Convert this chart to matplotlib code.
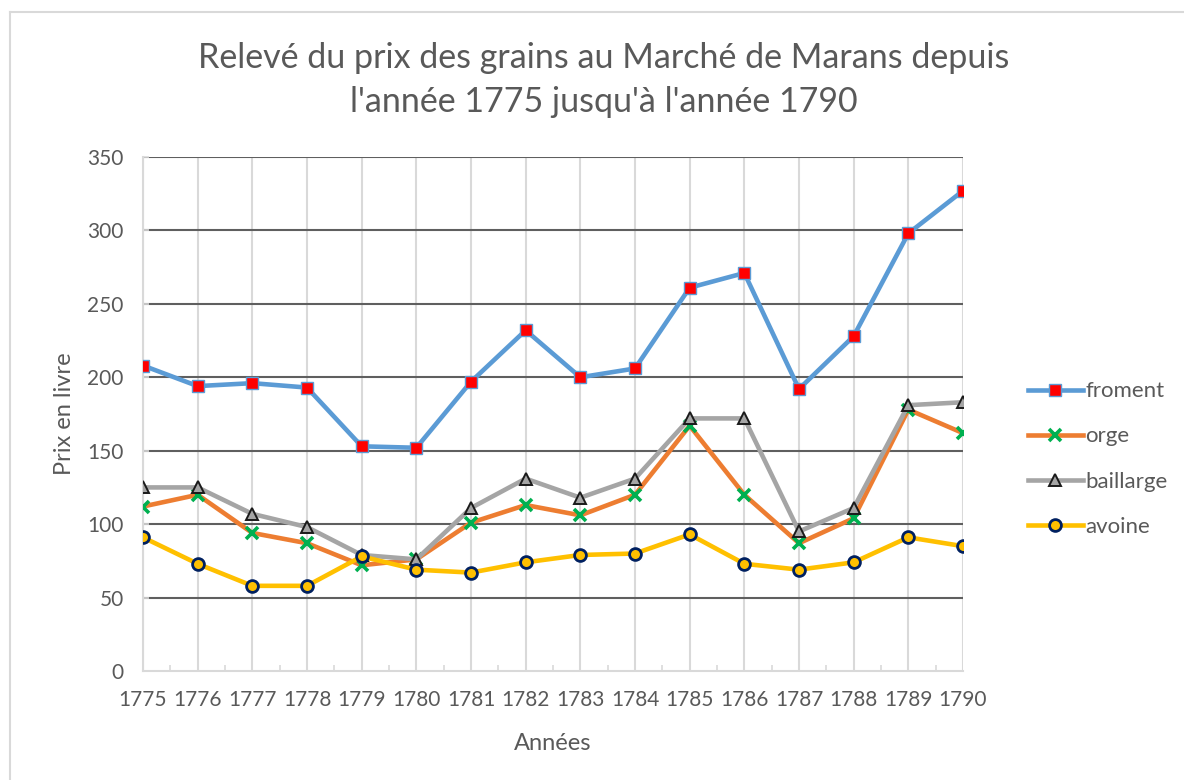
import matplotlib
matplotlib.use("Agg")
import matplotlib.pyplot as plt
from matplotlib.lines import Line2D

plt.rcParams['font.family'] = ['Lato', 'DejaVu Sans']

years = ['1775', '1776', '1777', '1778', '1779', '1780', '1781', '1782',
         '1783', '1784', '1785', '1786', '1787', '1788', '1789', '1790']
froment = [208, 194, 196, 193, 153, 152, 197, 232, 200, 206, 261, 271, 192, 228, 298, 327]
orge = [112, 120, 94, 87, 72, 76, 101, 113, 106, 120, 167, 120, 87, 104, 178, 162]
baillarge = [125, 125, 107, 98, 79, 76, 111, 131, 118, 131, 172, 172, 95, 111, 181, 183]
avoine = [91, 73, 58, 58, 78, 69, 67, 74, 79, 80, 93, 73, 69, 74, 91, 85]
yticks = [0, 50, 100, 150, 200, 250, 300, 350]

W, H = 1184, 780
fig = plt.figure(figsize=(W / 100, H / 100), dpi=100)
ax = fig.add_axes([143 / W, 1 - 671 / H, (963 - 143) / W, (671 - 157) / H])

txt = '#595959'
light = '#d9d9d9'
x = list(range(len(years)))

ax.plot(x, froment, color='#5b9bd5', lw=3.3, marker='s', ms=8,
        mfc='#ff0000', mec='#5b9bd5', mew=1.0, label='froment', zorder=3)
ax.plot(x, orge, color='#ed7d31', lw=3.3, marker='x', ms=9,
        mec='#00b050', mew=2.6, label='orge', zorder=4)
ax.plot(x, baillarge, color='#a5a5a5', lw=3.3, marker='^', ms=9,
        mfc='#a5a5a5', mec='#1a1a1a', mew=1.4, label='baillarge', zorder=5)
ax.plot(x, avoine, color='#ffc000', lw=3.3, marker='o', ms=8.5,
        mfc='#ffc000', mec='#002060', mew=2.0, label='avoine', zorder=6)

ax.set_xlim(0, len(years) - 1)
ax.set_ylim(0, 350)
ax.set_xticks(x)
ax.set_xticklabels(years)
ax.set_xticks([i + 0.5 for i in range(len(years) - 1)], minor=True)
ax.set_yticks(yticks)
ax.set_yticklabels([str(v) for v in yticks])

for s in ['top', 'right']:
    ax.spines[s].set_visible(False)
for s in ['left', 'bottom']:
    ax.spines[s].set_color(light)
    ax.spines[s].set_linewidth(1.5)

ax.tick_params(axis='x', which='major', length=0, pad=14, labelsize=15, labelcolor=txt)
ax.tick_params(axis='x', which='minor', direction='in', length=4, width=1.2, color=light)
ax.tick_params(axis='y', which='major', direction='in', length=4, width=1.2,
               color=light, pad=14, labelsize=15, labelcolor=txt)

for i in x:
    ax.axvline(i, color=light, lw=1.5, zorder=1)
for v in yticks[1:]:
    ax.axhline(v, color='#5f5f5f', lw=1.5, zorder=1.5)

ax.set_ylabel('Prix en livre', fontsize=17, color=txt)
ax.yaxis.set_label_coords(-0.083, 0.5)
ax.set_xlabel('Années', fontsize=17, color=txt)
ax.xaxis.set_label_coords(0.5, -0.120)

fig.text(603.5 / W, 1 - 80 / H,
         "Relevé du prix des grains au Marché de Marans depuis\nl'année 1775 jusqu'à l'année 1790",
         ha='center', va='center', fontsize=24.5, color=txt, linespacing=1.47)

fig.legend(loc='center left', bbox_to_anchor=(1017 / W, 1 - 459 / H),
           frameon=False, fontsize=16, labelcolor=txt, handlelength=2.45,
           handletextpad=0.12, labelspacing=1.13, borderpad=0.0)

fig.add_artist(Line2D([10 / W, 10 / W], [0, 1 - 12 / H], transform=fig.transFigure,
                      color=light, lw=1.5))
fig.add_artist(Line2D([10 / W, 1], [1 - 12 / H, 1 - 12 / H], transform=fig.transFigure,
                      color=light, lw=1.5))

fig.savefig('out.png', dpi=100)
